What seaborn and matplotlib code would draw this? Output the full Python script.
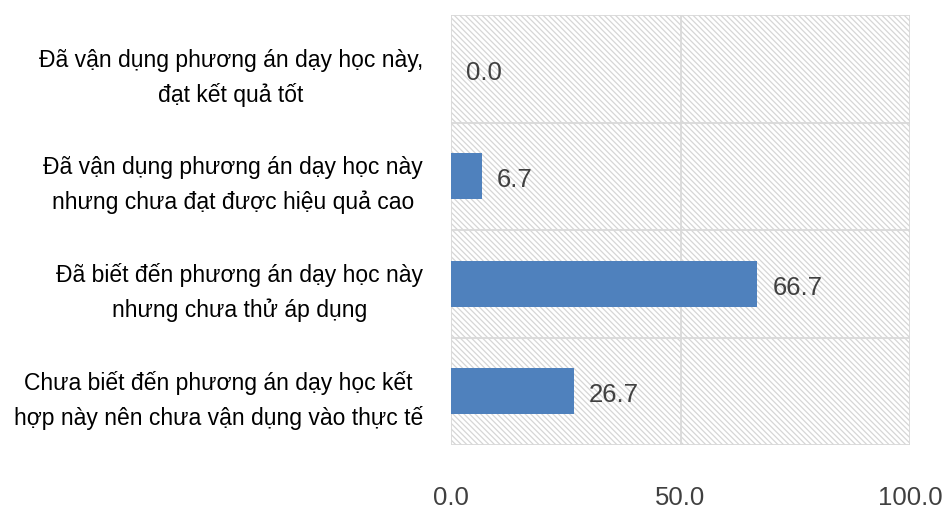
import matplotlib
matplotlib.use("Agg")
import matplotlib.pyplot as plt
import seaborn as sns
import pandas as pd
from matplotlib.patches import Rectangle
from matplotlib import font_manager

categories = [
    "Đã vận dụng phương án dạy học này,\nđạt kết quả tốt",
    "Đã vận dụng phương án dạy học này\nnhưng chưa đạt được hiệu quả cao",
    "Đã biết đến phương án dạy học này\nnhưng chưa thử áp dụng",
    "Chưa biết đến phương án dạy học kết\nhợp này nên chưa vận dụng vào thực tế",
]
values = [0.0, 6.7, 66.7, 26.7]
xticks = [0.0, 50.0, 100.0]

sns.set_theme(style="white")
names = {f.name for f in font_manager.fontManager.ttflist}
fam = ["Liberation Sans Narrow", "Liberation Sans", "DejaVu Sans"]
fam = [f for f in fam if f in names] or ["DejaVu Sans"]
plt.rcParams["font.family"] = fam
plt.rcParams["hatch.linewidth"] = 0.9
plt.rcParams["hatch.color"] = "#d6d6d6"

df = pd.DataFrame({"cat": categories, "val": values})

fig = plt.figure(figsize=(9.46, 5.10), dpi=100)
ax = fig.add_axes([451/946, 1-446/510, (910-451)/946, (446-16)/510])

bg = Rectangle((0, 0), 1, 1, transform=ax.transAxes, facecolor="white",
               edgecolor="#d6d6d6", hatch="\\" * 6, linewidth=0, zorder=0)
ax.add_patch(bg)

sns.barplot(data=df, x="val", y="cat", orient="h", color="#4f81bd",
            width=0.43, saturation=1, ax=ax, zorder=3, linewidth=0)

for i, v in enumerate(values):
    ax.annotate(f"{v:.1f}", xy=(v, i), xytext=(11, -2), textcoords="offset points",
                va="center", ha="left", fontsize=18.5, color="#404040", zorder=4)

ax.set_xlim(0, 100)
ax.set_ylim(3.5, -0.5)
ax.set_xticks(xticks)
ax.set_xticklabels([f"{t:.1f}" for t in xticks], fontsize=18.5, color="#404040")
ax.tick_params(axis="x", length=0, pad=29)
ax.set_yticks(range(len(categories)))
ax.set_yticklabels(categories, fontsize=16.5, color="black", multialignment="center",
                   linespacing=1.6)
ax.tick_params(axis="y", which="major", length=0, pad=20)
ax.set_yticks([-0.5, 0.5, 1.5, 2.5, 3.5], minor=True)
ax.tick_params(axis="y", which="minor", length=8, color="#d9d9d9", width=1.3, direction="out")
ax.set_xlabel("")
ax.set_ylabel("")

ax.grid(False)
for x in xticks:
    ax.axvline(x, color="#d9d9d9", lw=1.3, zorder=1)
for y in [-0.5, 0.5, 1.5, 2.5, 3.5]:
    ax.axhline(y, color="#d9d9d9", lw=1.3, zorder=1)
for s in ax.spines.values():
    s.set_visible(False)

fig.savefig("out.png", dpi=100)
